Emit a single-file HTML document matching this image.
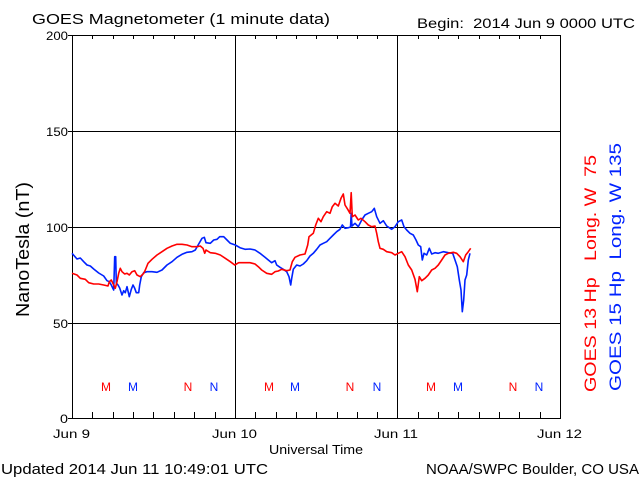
<!DOCTYPE html>
<html><head><meta charset="utf-8"><style>
html,body{margin:0;padding:0;background:#fff;width:640px;height:480px;overflow:hidden}
svg{display:block}
text{font-family:"Liberation Sans",sans-serif;fill:#000}
</style></head><body>
<svg width="640" height="480" viewBox="0 0 640 480" xmlns="http://www.w3.org/2000/svg">
<rect width="640" height="480" fill="#fff"/>
<!-- title -->
<text x="32" y="24" font-size="15" textLength="298" lengthAdjust="spacingAndGlyphs">GOES Magnetometer (1 minute data)</text>
<text x="417" y="28" font-size="14" textLength="218" lengthAdjust="spacingAndGlyphs" xml:space="preserve">Begin:  2014 Jun 9 0000 UTC</text>
<!-- grid -->
<g stroke="#000" stroke-width="1" shape-rendering="crispEdges" fill="none">
<rect x="72.5" y="35.5" width="488" height="383"/>
<line x1="72" y1="131.5" x2="560" y2="131.5"/>
<line x1="72" y1="227.5" x2="560" y2="227.5"/>
<line x1="72" y1="323.5" x2="560" y2="323.5"/>
<line x1="235.5" y1="35" x2="235.5" y2="419"/>
<line x1="397.5" y1="35" x2="397.5" y2="419"/>
<line x1="68" y1="35.5" x2="72" y2="35.5"/>
<line x1="68" y1="131.5" x2="72" y2="131.5"/>
<line x1="68" y1="227.5" x2="72" y2="227.5"/>
<line x1="68" y1="323.5" x2="72" y2="323.5"/>
<line x1="68" y1="418.5" x2="72" y2="418.5"/>
<path d="M92.5 36v3M113.5 36v3M133.5 36v3M153.5 36v3M174.5 36v3M194.5 36v3M215.5 36v3M255.5 36v3M276.5 36v3M296.5 36v3M316.5 36v3M337.5 36v3M357.5 36v3M377.5 36v3M418.5 36v3M438.5 36v3M458.5 36v3M479.5 36v3M499.5 36v3M519.5 36v3M540.5 36v3"/>
<path d="M92.5 418v-6M113.5 418v-6M133.5 418v-6M153.5 418v-6M174.5 418v-6M194.5 418v-6M215.5 418v-6M255.5 418v-6M276.5 418v-6M296.5 418v-6M316.5 418v-6M337.5 418v-6M357.5 418v-6M377.5 418v-6M418.5 418v-6M438.5 418v-6M458.5 418v-6M479.5 418v-6M499.5 418v-6M519.5 418v-6M540.5 418v-6"/>
</g>
<!-- y tick labels -->
<g font-size="12" text-anchor="end">
<text x="68" y="40" textLength="22" lengthAdjust="spacingAndGlyphs">200</text>
<text x="68" y="136" textLength="22" lengthAdjust="spacingAndGlyphs">150</text>
<text x="68" y="232" textLength="22" lengthAdjust="spacingAndGlyphs">100</text>
<text x="68" y="328" textLength="15" lengthAdjust="spacingAndGlyphs">50</text>
<text x="68" y="423" textLength="8" lengthAdjust="spacingAndGlyphs">0</text>
</g>
<!-- x labels -->
<g font-size="12">
<text x="53" y="438" textLength="37" lengthAdjust="spacingAndGlyphs">Jun 9</text>
<text x="212" y="438" textLength="45" lengthAdjust="spacingAndGlyphs">Jun 10</text>
<text x="374" y="438" textLength="44" lengthAdjust="spacingAndGlyphs">Jun 11</text>
<text x="537" y="438" textLength="45" lengthAdjust="spacingAndGlyphs">Jun 12</text>
<text x="269" y="454" font-size="13" textLength="94" lengthAdjust="spacingAndGlyphs">Universal Time</text>
</g>
<text x="1" y="474" font-size="15" textLength="267" lengthAdjust="spacingAndGlyphs">Updated 2014 Jun 11 10:49:01 UTC</text>
<text x="426" y="474" font-size="15" textLength="213" lengthAdjust="spacingAndGlyphs">NOAA/SWPC Boulder, CO USA</text>
<!-- y axis title -->
<text transform="translate(29,317) rotate(-90)" font-size="18" textLength="135" lengthAdjust="spacingAndGlyphs">NanoTesla (nT)</text>
<!-- right legend -->
<text transform="translate(596,392) rotate(-90)" font-size="17" fill="#ff0000" style="fill:#ff0000" textLength="237" lengthAdjust="spacingAndGlyphs" xml:space="preserve">GOES 13 Hp   Long. W  75</text>
<text transform="translate(621,391) rotate(-90)" font-size="17" fill="#0022ff" style="fill:#0022ff" textLength="248" lengthAdjust="spacingAndGlyphs" xml:space="preserve">GOES 15 Hp  Long. W 135</text>
<!-- M/N markers -->
<g font-size="12" text-anchor="middle">
<text x="106" y="391" style="fill:#ff0000">M</text>
<text x="133" y="391" style="fill:#0022ff">M</text>
<text x="188" y="391" style="fill:#ff0000">N</text>
<text x="214" y="391" style="fill:#0022ff">N</text>
<text x="269" y="391" style="fill:#ff0000">M</text>
<text x="295" y="391" style="fill:#0022ff">M</text>
<text x="350" y="391" style="fill:#ff0000">N</text>
<text x="377" y="391" style="fill:#0022ff">N</text>
<text x="431" y="391" style="fill:#ff0000">M</text>
<text x="458" y="391" style="fill:#0022ff">M</text>
<text x="513" y="391" style="fill:#ff0000">N</text>
<text x="539" y="391" style="fill:#0022ff">N</text>
</g>
<!-- data -->
<polyline fill="none" stroke="#0022ff" stroke-width="1.6" stroke-linejoin="round" points="72,253.3 77,259 80.3,258 83.7,261.7 87,265 90.3,266 93.7,269 98.7,273 103.7,276 107,280.7 109.3,281.7 111.3,285 112.7,288 113.7,290 114.7,256.7 115.7,256.7 116.3,283 118,285 119.7,288 122,295 123.7,290.7 125.3,292.7 127,286.7 129.3,296.7 131.3,289.3 133,285 134.7,288.3 136.3,292.7 138.7,292.7 139.7,285 141.3,276.7 143.7,272.7 147,271.7 152,271.7 157,272.3 162,270 167,265 172,261.7 177,257.3 182,254.3 187,252.3 192,251.7 195.3,250 198.7,244 202,238.3 204.3,237.3 206,242.7 210.3,243.3 213.7,240 217,239.3 219.7,236.7 223.7,236.7 227,240 230.3,243.3 235.3,245 240,247.7 245,249.3 250,249 255,250 260,253.3 265,257.3 268.3,260 271.7,262.7 275,260.7 276.7,265 280,267.3 283.3,269.3 286.7,271.7 289,276.7 290.7,285 291.7,278.3 293.3,269.3 296.7,265 300,266 303.3,264 306.7,260.7 310,256 313.3,253.3 316.7,249.3 320,245 323.3,243.3 326.7,241.7 330,238.3 333.3,235 336.7,231.7 340,229.3 342.3,225 345,228.3 348.3,227.7 350.5,227 351.2,213.3 352,226 355,223.3 358.3,226.7 361.7,220 365,215 368.3,213.3 371.7,211.7 374.3,208.3 376.7,216.7 380,223.3 383.3,220.7 386.7,226 391.7,229.3 395,226.7 398.3,221.7 401.7,220 404,226.7 406.7,230 410,233.3 413.3,235 416,240 418.3,245 420.7,246.7 422.3,260 424,253.3 426.7,255 429.3,248.3 431.7,254 435,252.7 438.3,253.3 443.3,251.7 448.3,252.7 452.7,253.3 455,260 457.3,266.7 459.3,280 461,290 462.3,311.7 463.7,300 465,280 466.7,275 468.3,260 470,253.3"/>
<polyline fill="none" stroke="#ff0000" stroke-width="1.6" stroke-linejoin="round" points="72,273.3 77,275 80.3,278.3 85.3,279.3 88.7,282.7 93.7,284 98.7,284 103.7,285 108,286 109.3,281.7 111.3,280 113.7,285 115.3,288.3 117,281.7 118.7,273.3 120.3,268.3 122,271.7 124.7,274 127,273.3 129.3,275 132,271.7 134.7,270.7 137,275 140.3,276.7 143.7,273.3 145.3,270 148,263.3 152,259.3 157,255 162,251.7 167,248.3 172,246 177,244.3 182,244.3 187,245 192,246.7 197,246.7 200.3,246 203,248.3 204.7,253.3 206,250 210.3,252.7 215.3,253.3 220.3,255 225.3,258.3 230.3,261.7 234.7,265 238.7,262.7 241.7,262.7 250,262.7 255,264 258.3,266.7 261.7,270 266.7,273.3 271.7,274.3 275,271.7 278.3,271 281.7,269.3 286.7,270.7 290,270 292.3,261.7 295,257.3 300,255 305,254 307.7,245 309,236.7 313.3,233.3 315.7,225 318.3,218.3 321,221.7 323.3,216.7 326.7,211.7 330,213.3 332.3,206.7 335,203.3 338.3,206 341,198.3 343.3,194 345,205 347.7,209.3 350,213.3 351.2,192.7 352.3,216.7 355,215 358.3,220 361,218.3 365,221.7 368.3,225 371.7,226.7 375,226 376.7,233.3 378.3,241.7 380,248.3 383.3,249.3 386.7,251.7 391.7,252.7 395,255 398.3,253.3 401.7,251.7 405,256.7 408.3,265 411.7,270 415,279.3 417.3,291.7 419.3,276.7 421.7,280.7 425,278.3 428.3,275 431.7,270 435,268.3 438.3,265 441.7,260 445,255 448.3,253.3 453.3,252.3 456.7,253.3 460,256.7 463.3,261.7 465.7,255 468.3,251.7 470.7,248.3"/>
</svg>
</body></html>
